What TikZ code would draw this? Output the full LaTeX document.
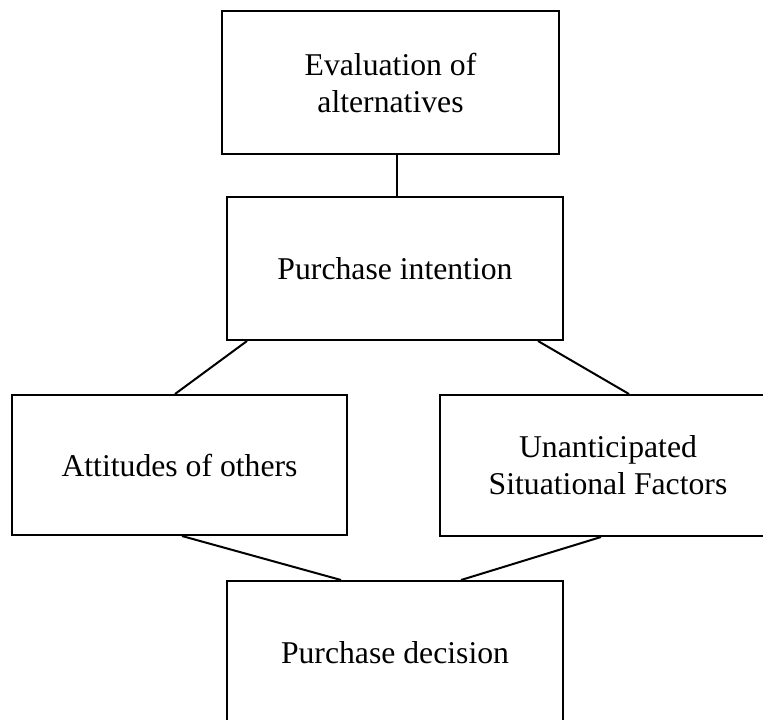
\documentclass[tikz,border=0pt]{standalone}
\usepackage{fontspec}
\setmainfont{Liberation Serif}
\usetikzlibrary{calc}
\begin{document}
\begin{tikzpicture}[x=1pt,y=-1pt,
  box/.style={draw=black,line width=2pt,fill=white,rectangle,align=center,inner sep=0pt,
    font=\fontsize{31.7}{37}\selectfont},
  link/.style={draw=black,line width=2pt}]
\useasboundingbox (0,0) rectangle (763,720);
\clip (0,0) rectangle (763,720);
\node[box,minimum width=337pt,minimum height=143pt] (eval) at (390.5,82.5) {Evaluation of\\alternatives};
\node[box,minimum width=336pt,minimum height=143pt] (pi) at (395,268.5) {Purchase intention};
\node[box,minimum width=335pt,minimum height=140pt] (att) at (179.5,465) {Attitudes of others};
\node[box,minimum width=336pt,minimum height=141pt] (usf) at (608,465.5) {Unanticipated\\Situational Factors};
\node[box,minimum width=336pt,minimum height=143pt] (pd) at (395,652.5) {Purchase decision};
\draw[link] ([xshift=2pt]pi.north) -- ([xshift=2pt]pi.north |- eval.south);
\draw[link] ([xshift=21pt]pi.south west) -- ([xshift=164pt]att.north west);
\draw[link] ([xshift=-26pt]pi.south east) -- ([xshift=190pt]usf.north west);
\draw[link] ([xshift=171pt]att.south west) -- ([xshift=115pt]pd.north west);
\draw[link] ([xshift=162pt]usf.south west) -- ([xshift=-103pt]pd.north east);
\end{tikzpicture}
\end{document}
